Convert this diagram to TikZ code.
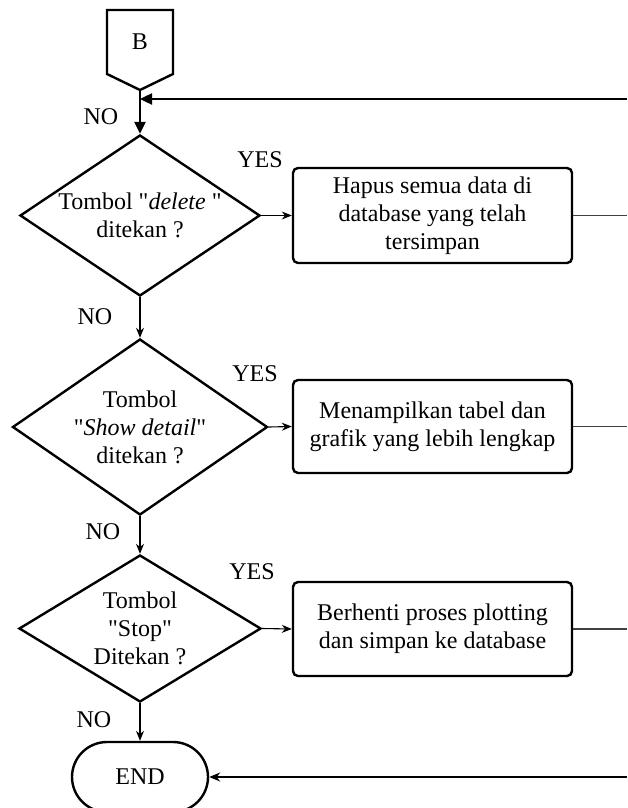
\documentclass[tikz,border=0pt]{standalone}
\usepackage{fontspec}
\setmainfont{Liberation Serif}[Ligatures=TeXOff]
\usetikzlibrary{arrows.meta,shapes.geometric}
\begin{document}
\begin{tikzpicture}[x=1pt,y=-1pt,
  font=\fontsize{24}{28}\selectfont,
  dec/.style={shape=diamond,draw,line width=2.4pt,inner sep=-40pt,align=center},
  proc/.style={draw,line width=2.4pt,rounded corners=5pt,minimum width=279pt,inner sep=0pt,align=center},
  lbl/.style={inner sep=0pt},
  thinarrow/.style={line width=1.1pt,-{Stealth[length=10pt,width=8pt]}},
  thickarrow/.style={line width=2.4pt,-{Triangle[length=12pt,width=11pt]}},
  outline/.style={line width=1.1pt,black!75}
]
\useasboundingbox (0,0) rectangle (627,808);

% off-page connector B
\draw[line width=2.4pt] (107,10) -- (173,10) -- (173,74) -- (140,90) -- (107,74) -- cycle;
\node[lbl] (B) at (140,42) {B};
\coordinate (Bbot) at (140,90);
\coordinate (topR) at (627,99);
\coordinate (join) at (140,99);

% decisions
\node[dec,minimum width=240pt,minimum height=161pt] (d1) at (140,215.5) {Tombol "\textit{delete} "\\ditekan ?};
\node[dec,minimum width=255pt,minimum height=176pt] (d2) at (140,427) {Tombol\\"\textit{Show detail}"\\ditekan ?};
\node[dec,minimum width=242pt,minimum height=147pt] (d3) at (140,628.5) {Tombol\\"Stop"\\Ditekan ?};

% processes
\node[proc,minimum height=95pt] (p1) at (432.5,215.5) {Hapus semua data di\\database yang telah\\tersimpan};
\node[proc,minimum height=93pt] (p2) at (432.5,426.5) {Menampilkan tabel dan\\grafik yang lebih lengkap};
\node[proc,minimum height=94pt] (p3) at (432.5,629) {Berhenti proses plotting\\dan simpan ke database};

% end
\node[draw,line width=2.4pt,rounded corners=35pt,minimum width=136pt,minimum height=70pt] (end) at (140,777) {END};

% right-side free ends
\coordinate (r1) at (627,215.5);
\coordinate (r2) at (627,426.5);
\coordinate (r3) at (627,629);
\coordinate (endR) at (627,777);

% connectors
\draw[thickarrow] (topR) -- (join);
\draw[thickarrow] (Bbot) -- (d1.north);
\draw[thinarrow] (d1.south) -- (d2.north);
\draw[thinarrow] (d2.south) -- (d3.north);
\draw[thinarrow] (d3.south) -- (end.north);
\draw[thinarrow] (d1.east) -- (p1.west);
\draw[thinarrow] (d2.east) -- (p2.west);
\draw[thinarrow] (d3.east) -- (p3.west);
\draw[outline] (p1.east) -- (r1);
\draw[outline] (p2.east) -- (r2);
\draw[outline] (p3.east) -- (r3);
\draw[line width=1.6pt,-{Stealth[length=11pt,width=9pt]}] (endR) -- (end.east);

% labels
\node[lbl] (no1) at (101,117) {NO};
\node[lbl] (no2) at (95,317) {NO};
\node[lbl] (no3) at (103,532) {NO};
\node[lbl] (no4) at (94,720) {NO};
\node[lbl] (yes1) at (260,160) {YES};
\node[lbl] (yes2) at (255,374) {YES};
\node[lbl] (yes3) at (252,572) {YES};
\end{tikzpicture}
\end{document}
